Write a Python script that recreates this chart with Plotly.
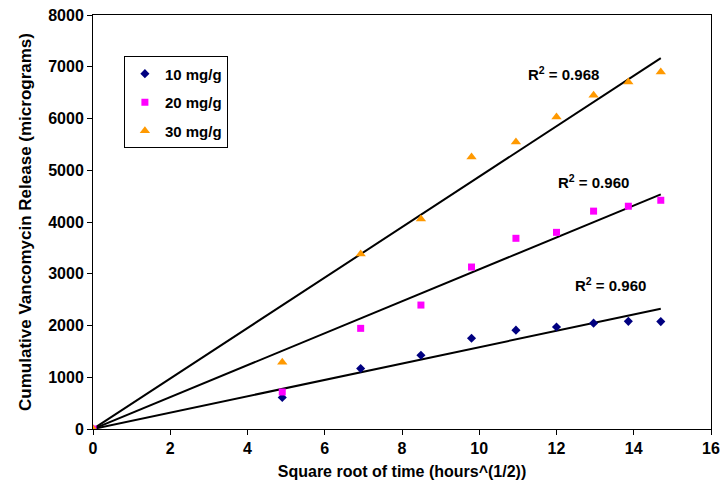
import numpy as np
import plotly.graph_objects as go

x_vals = [0, 4.90, 6.93, 8.49, 9.80, 10.95, 12.00, 12.96, 13.86, 14.70]
s10 = [0, 610, 1170, 1425, 1755, 1910, 1970, 2045, 2080, 2075]
s20 = [0, 715, 1945, 2395, 3130, 3685, 3800, 4210, 4305, 4420]
s30 = [0, 1290, 3380, 4060, 5255, 5545, 6030, 6450, 6705, 6900]
names = ["10 mg/g", "20 mg/g", "30 mg/g"]
colors = ["#000080", "#FF00FF", "#FF9900"]
symbols = ["diamond", "square", "triangle-up"]
msizes = [7, 7, 9]
r2_labels = ["R<sup>2</sup> = 0.960", "R<sup>2</sup> = 0.960", "R<sup>2</sup> = 0.968"]
label_pos = [(13.41, 2790), (12.97, 4780), (12.17, 6870)]
x_ticks = [0, 2, 4, 6, 8, 10, 12, 14, 16]
y_ticks = [0, 1000, 2000, 3000, 4000, 5000, 6000, 7000, 8000]

FAM = "Liberation Sans, Arial"
def bf(size):
    return dict(family=FAM, size=size, color="black", weight="bold")

fig = go.Figure()
x = np.array(x_vals)
for ser in [s10, s20, s30]:
    y = np.array(ser)
    slope = (x * y).sum() / (x * x).sum()
    xl = np.array([0, x.max()])
    fig.add_trace(go.Scatter(x=xl, y=slope * xl, mode="lines", line=dict(color="black", width=2),
                             showlegend=False, hoverinfo="skip"))
for ser, name, c, sym, ms in zip([s10, s20, s30], names, colors, symbols, msizes):
    fig.add_trace(go.Scatter(x=x_vals, y=ser, mode="markers", name=name, legendgroup=name,
                             marker=dict(color=c, symbol=sym, size=ms)))

for lab, (lx, ly) in zip(r2_labels, label_pos):
    fig.add_annotation(x=lx, y=ly, text=lab, showarrow=False, font=bf(15))

fig.update_layout(
    width=721, height=491, margin=dict(l=93, r=10, t=15, b=62),
    plot_bgcolor="white", paper_bgcolor="white", font=bf(13),
    legend=dict(x=0.05, y=0.9, xanchor="left", yanchor="top", bgcolor="white",
                bordercolor="black", borderwidth=1, tracegroupgap=6, font=bf(15)),
)
fig.update_xaxes(range=[0, 16], tickvals=x_ticks, ticktext=[f"<b>{v}</b>" for v in x_ticks],
                 ticks="outside", ticklen=5, tickcolor="black",
                 showline=True, linecolor="black", linewidth=1, mirror=True, showgrid=False,
                 zeroline=False, tickfont=bf(16), automargin=False,
                 title=dict(text="<b>Square root of time (hours^(1/2))</b>", standoff=9, font=bf(16)))
fig.update_yaxes(range=[0, 8000], tickvals=y_ticks, ticktext=[f"<b>{v}</b>" for v in y_ticks],
                 ticks="outside", ticklen=5, tickcolor="black",
                 showline=True, linecolor="black", linewidth=1, mirror=True, showgrid=False,
                 zeroline=False, tickfont=bf(16), automargin=False,
                 title=dict(text="<b>Cumulative Vancomycin Release (micrograms)</b>", standoff=12, font=bf(17)))
fig.write_html("out.html")
